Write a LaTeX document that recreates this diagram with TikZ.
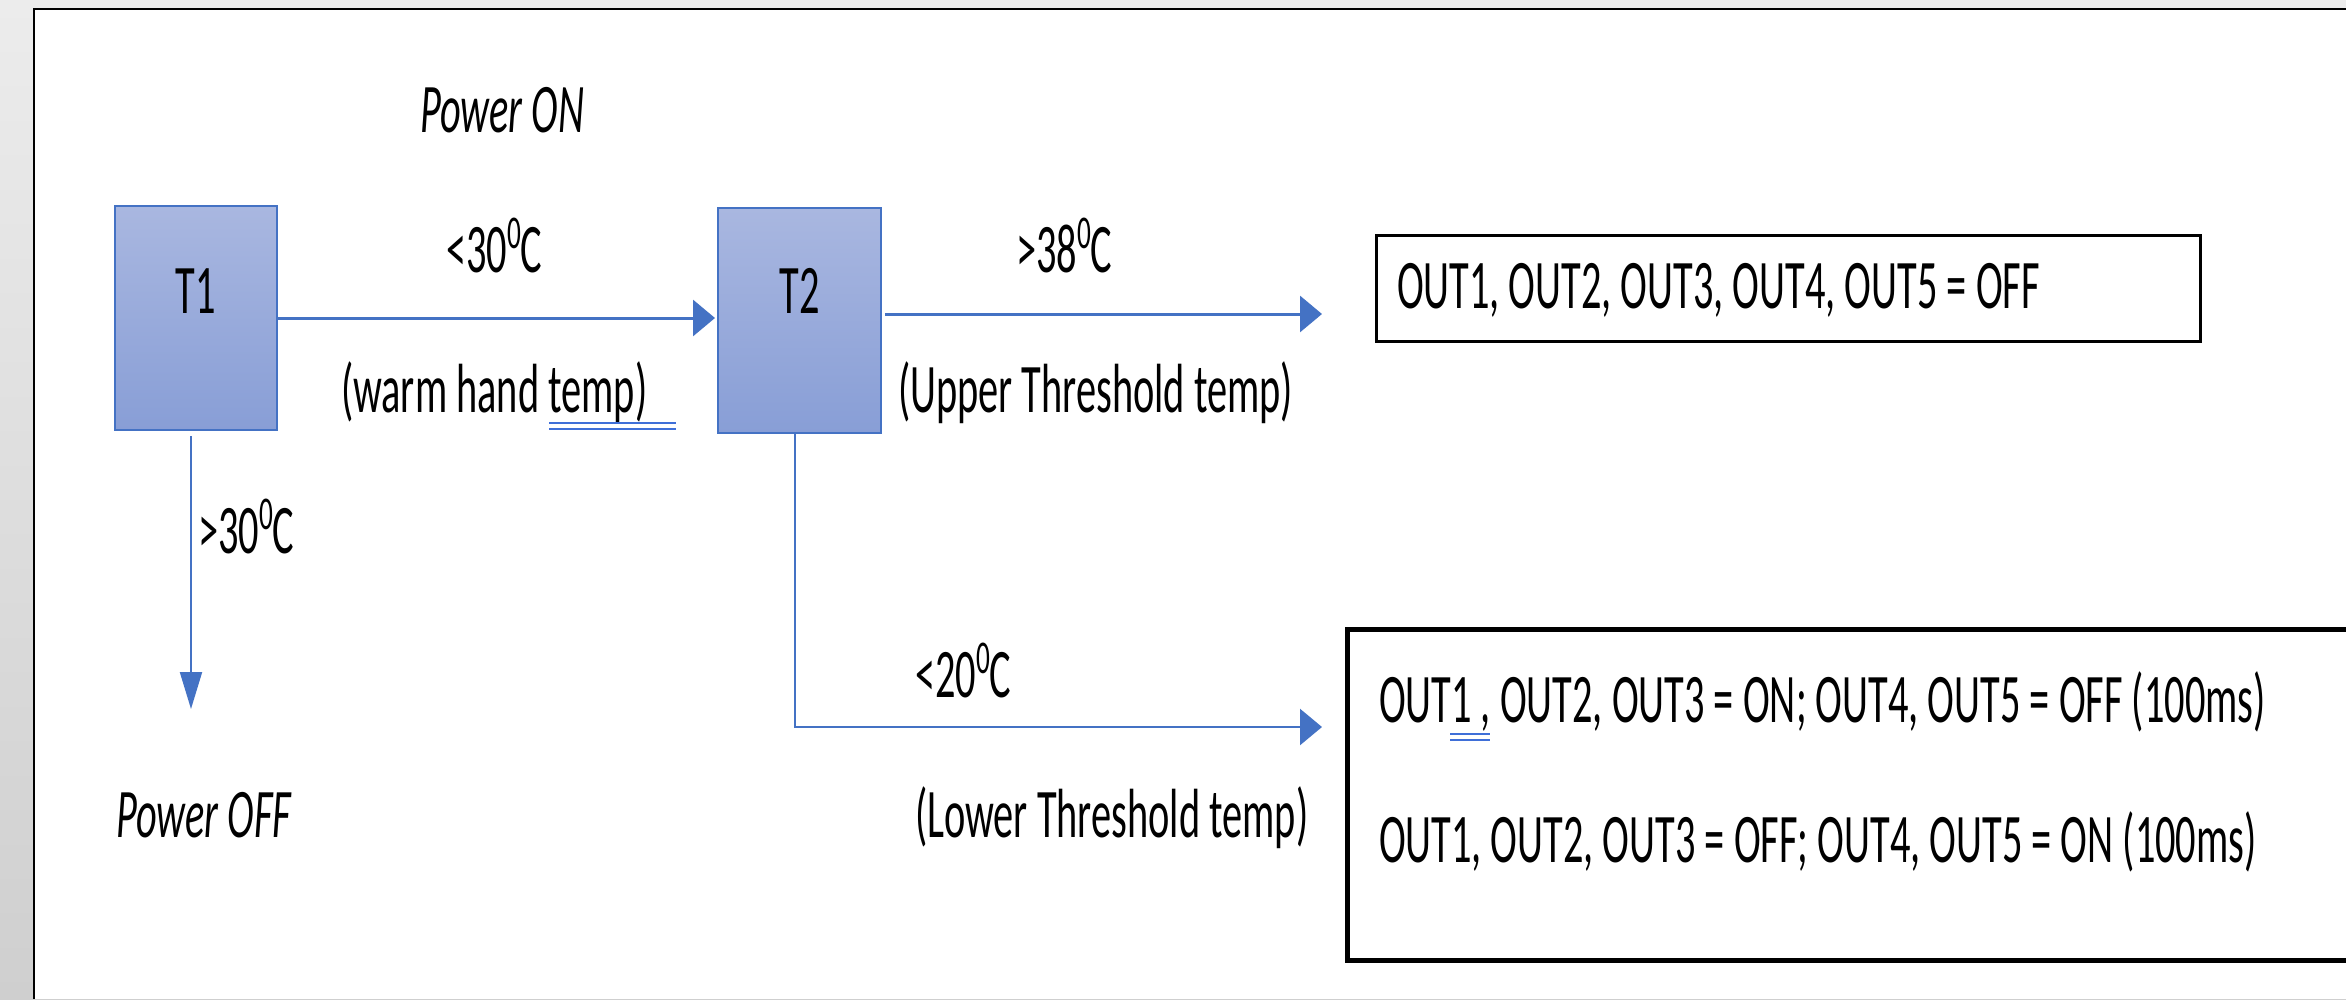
\documentclass[tikz,border=0pt]{standalone}
\usepackage{fontspec}
\setmainfont{Carlito}[FakeStretch=0.58]
\usetikzlibrary{arrows.meta}
\definecolor{obl}{HTML}{4472C4}
\definecolor{boxtop}{HTML}{A9B7E0}
\definecolor{boxbot}{HTML}{889ED6}
\definecolor{gram}{HTML}{3F6FD8}
\definecolor{grayA}{HTML}{ECECEC}
\definecolor{grayB}{HTML}{CFCFCF}
\newcommand\degz{\raisebox{24pt}{\fontsize{47}{50}\selectfont 0}}
\begin{document}
\begin{tikzpicture}[x=1pt,y=-1pt,
  lab/.style={inner sep=0, outer sep=0, anchor=base west, font=\fontsize{69.6}{80}\selectfont},
  labit/.style={lab, font=\fontsize{69.6}{80}\selectfont\itshape},
  tbox/.style={draw=obl, line width=2, top color=boxtop, bottom color=boxbot, inner sep=0, outer sep=0},
  outbox/.style={draw=black, fill=white, inner sep=0, outer sep=0},
  hconn/.style={draw=obl, line width=3},
  vconn/.style={draw=obl, line width=2},
  econn/.style={draw=obl, line width=2.5},
  arrowH/.style={-{Triangle[length=22pt,width=36pt]}},
  arrowV/.style={-{Triangle[length=37pt,width=22pt]}},
  gramline/.style={draw=gram, line width=2.2}]
\useasboundingbox (0,0) rectangle (2346,999);
% background and frame
\fill[top color=grayA, bottom color=grayB] (0,0) rectangle (2346,999);
\fill[white] (34,9) rectangle (2346,999);
\draw[line width=2.5] (34,999) -- (34,9) -- (2346,9);
% state boxes
\node[tbox, minimum width=162, minimum height=224] (T1) at (196,318) {};
\node[tbox, minimum width=163, minimum height=225] (T2) at (799.5,320.5) {};
\node[lab, anchor=base] (T1t) at (196,313) {T1};
\node[lab, anchor=base] (T2t) at (799.5,313) {T2};
% output boxes
\node[outbox, line width=3, minimum width=824, minimum height=106] (out1) at (1788,288) {};
\node[outbox, line width=5, minimum width=1060, minimum height=331] (out2) at (1877,794.5) {};
% free ends
\coordinate (off) at (191,709);
\coordinate (low) at (1322,727);
% connectors
\draw[hconn, arrowH, shorten <=1pt, shorten >=3pt] (T1.east) -- (T1.east -| T2.west);
\draw[hconn, arrowH, shorten <=4pt, shorten >=54pt] ([yshift=6.5pt]T2.east) -- ([yshift=6.5pt]T2.east -| out1.west);
\draw[vconn, arrowV, shorten <=6pt] (T1.south -| off) -- (off);
\draw[econn, arrowH] ([xshift=-4.5pt]T2.south) |- (low);
% labels
\node[labit] (pon) at (420,132) {Power ON};
\node[lab] (c30) at (446,272) {<30\degz C};
\node[lab] (warm) at (341,412) {(warm hand temp)};
\node[lab] (c38) at (1016,272) {>38\degz C};
\node[lab] (upper) at (898,412) {(Upper Threshold temp)};
\node[lab] (c30b) at (198,553) {>30\degz C};
\node[labit] (poff) at (116,837) {Power OFF};
\node[lab] (c20) at (915,697) {<20\degz C};
\node[lab] (lower) at (915,837) {(Lower Threshold temp)};
\node[lab] (o1) at (1397,308) {OUT1, OUT2, OUT3, OUT4, OUT5 = OFF};
\node[lab] (o2a) at (1379,722) {OUT1 , OUT2, OUT3 = ON; OUT4, OUT5 = OFF (100ms)};
\node[lab] (o2b) at (1379,862) {OUT1, OUT2, OUT3 = OFF; OUT4, OUT5 = ON (100ms)};
% grammar-check double underlines
\draw[gramline] (549,423) -- (676,423) (549,429) -- (676,429);
\draw[gramline] (1450,734) -- (1490,734) (1450,740) -- (1490,740);
\end{tikzpicture}
\end{document}
